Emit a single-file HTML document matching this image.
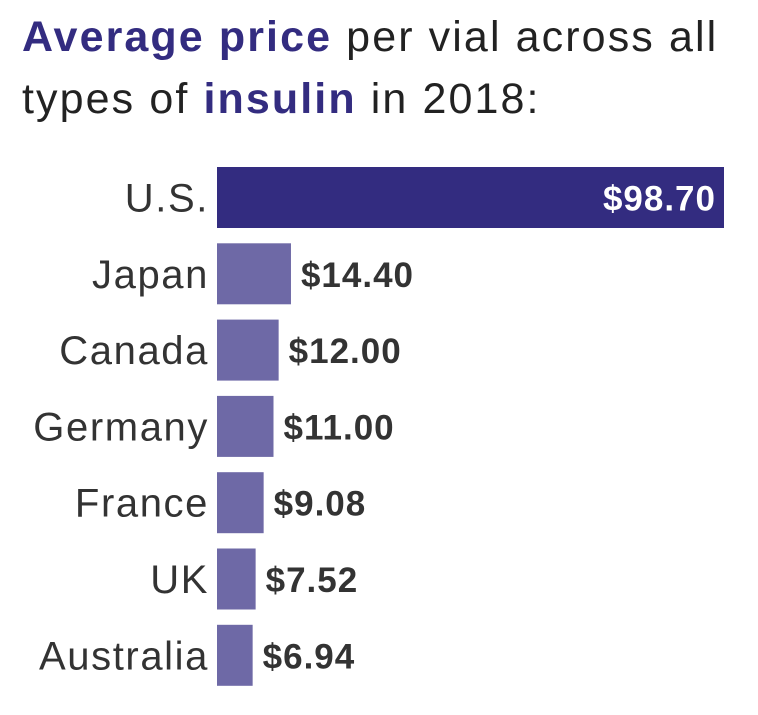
<!DOCTYPE html>
<html><head><meta charset="utf-8"><style>
body{margin:0;background:#fff;width:758px;height:715px;overflow:hidden;font-family:"Liberation Sans",sans-serif;}
.t{position:absolute;left:22px;font-size:43px;letter-spacing:2.1px;color:#222;white-space:nowrap;}
.t b{color:#332c80;}
</style></head><body>
<div class="t" style="top:13px"><b>Average price</b> per vial across all</div>
<div class="t" style="top:75px">types of <b>insulin</b> in 2018:</div>
<svg id="c" width="758" height="715" style="position:absolute;left:0;top:0"></svg>
<script>
const categories=["U.S.","Japan","Canada","Germany","France","UK","Australia"];
const values=[98.70,14.40,12.00,11.00,9.08,7.52,6.94];
const valueLabels=["$98.70","$14.40","$12.00","$11.00","$9.08","$7.52","$6.94"];
const svg=document.getElementById('c');
const NS='http://www.w3.org/2000/svg';
const x0=217, xScale=v=>v*(507/98.7);
const y=i=>167+i*76.3, bh=61;
categories.forEach((c,i)=>{
  const w=xScale(values[i]);
  const r=document.createElementNS(NS,'rect');
  r.setAttribute('x',x0);r.setAttribute('y',y(i));r.setAttribute('width',w);r.setAttribute('height',bh);
  r.setAttribute('fill',i===0?'#332c80':'#6e69a6');
  
  
  svg.appendChild(r);
  const l=document.createElementNS(NS,'text');
  l.setAttribute('x',209);l.setAttribute('y',y(i)+bh/2+14);l.setAttribute('text-anchor','end');
  l.setAttribute('font-size','40');l.setAttribute('letter-spacing','1.6');l.setAttribute('fill','#333');l.textContent=c;
  
  
  svg.appendChild(l);
  const v=document.createElementNS(NS,'text');
  const inside=i===0;
  v.setAttribute('x',inside?x0+w-8:x0+w+10);v.setAttribute('y',y(i)+bh/2+13);
  v.setAttribute('text-anchor',inside?'end':'start');v.setAttribute('font-weight','bold');
  v.setAttribute('font-size','35');v.setAttribute('letter-spacing','1');v.setAttribute('fill',inside?'#fff':'#333');v.textContent=valueLabels[i];
  
  
  svg.appendChild(v);
});
</script>
</body></html>
